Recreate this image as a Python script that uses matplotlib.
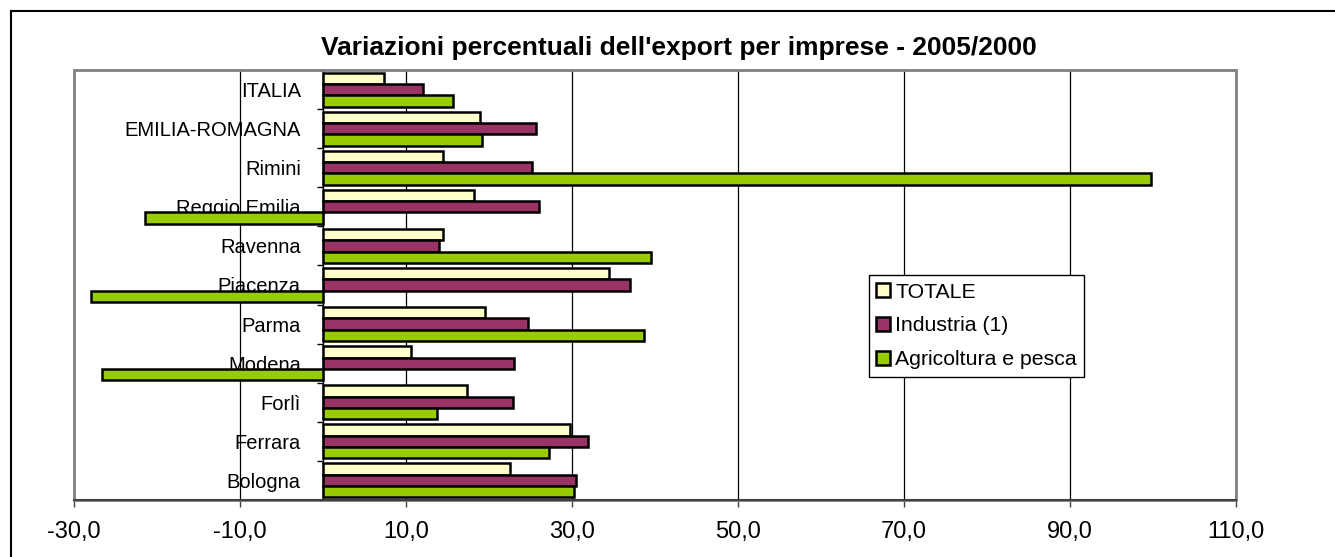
import matplotlib
matplotlib.use("Agg")
import matplotlib.pyplot as plt
from matplotlib.patches import Rectangle
from matplotlib.lines import Line2D
import numpy as np

plt.rcParams['font.family'] = ['Liberation Sans', 'DejaVu Sans']

# categories from top to bottom
categorie = ['ITALIA', 'EMILIA-ROMAGNA', 'Rimini', 'Reggio Emilia', 'Ravenna',
             'Piacenza', 'Parma', 'Modena', 'Forlì', 'Ferrara', 'Bologna']
totale = [7.4, 18.9, 14.4, 18.2, 14.4, 34.5, 19.5, 10.6, 17.4, 29.8, 22.5]
industria = [12.1, 25.7, 25.2, 26.0, 14.0, 37.0, 24.7, 23.0, 22.9, 31.9, 30.5]
agricoltura = [15.7, 19.2, 99.7, -21.5, 39.5, -27.9, 38.7, -26.6, 13.7, 27.2, 30.3]
serie = ['TOTALE', 'Industria (1)', 'Agricoltura e pesca']
colori = ['#FFFFCC', '#993366', '#99CC00']
xticks = [-30, -10, 10, 30, 50, 70, 90, 110]

fig = plt.figure(figsize=(13.35, 5.57), dpi=100)
ax = fig.add_axes([74/1335, 1-500/557, 1162/1335, 430/557])

n = len(categorie)
y = np.arange(n)[::-1]
h = 0.29
for vals, off, col, lab in zip([totale, industria, agricoltura], [h, 0, -h], colori, serie):
    ax.barh(y + off, vals, height=h, color=col, edgecolor='black', linewidth=1.8,
            label=lab, zorder=3)

ax.set_xlim(-30, 110)
ax.set_ylim(-0.5, n - 0.5)
ax.set_axisbelow(True)
ax.grid(axis='x', color='black', linewidth=0.9)

# x axis
ax.set_xticks(xticks)
ax.set_xticklabels([('%.1f' % v).replace('.', ',') for v in xticks], fontsize=17)
ax.tick_params(axis='x', direction='out', length=5, width=1, color='#404040', pad=10)

# y axis on zero
ax.spines['left'].set_position(('data', 0))
ax.spines['left'].set_color('black')
ax.spines['left'].set_linewidth(1)
ax.set_yticks(y)
ax.set_yticklabels(categorie, fontsize=14.5)
ax.tick_params(axis='y', which='major', length=0, pad=16)
ax.set_yticks(np.arange(n + 1) - 0.5, minor=True)
ax.tick_params(axis='y', which='minor', direction='out', length=4.5, width=1, color='black')

ax.spines['top'].set_visible(False)
ax.spines['right'].set_visible(False)
ax.spines['bottom'].set_color('#404040')
ax.spines['bottom'].set_linewidth(1.5)
ax.spines['bottom'].set_zorder(4)
ax.add_patch(Rectangle((0, 0), 1, 1, transform=ax.transAxes, fill=False,
                       edgecolor='#808080', linewidth=2, clip_on=False, zorder=3.5))

leg = ax.legend(loc='upper left', bbox_to_anchor=(0.684, 0.523), borderaxespad=0,
                fontsize=15.3, fancybox=False, edgecolor='black', framealpha=1,
                handlelength=0.65, handleheight=0.65, handletextpad=0.25,
                labelspacing=0.7, borderpad=0.35)
leg.get_frame().set_linewidth(1)
for p in leg.get_patches():
    p.set_linewidth(1.8)
leg.set_zorder(5)

fig.text(679/1335, 1-48/557, "Variazioni percentuali dell'export per imprese - 2005/2000",
         ha='center', va='center', fontsize=19, fontweight='bold')

# outer frame
fig.add_artist(Line2D([11/1335, 11/1335], [0, 1-11/557], color='black', linewidth=1.5))
fig.add_artist(Line2D([11/1335, 1], [1-11/557, 1-11/557], color='black', linewidth=1.5))

fig.savefig('out.png', dpi=100)
